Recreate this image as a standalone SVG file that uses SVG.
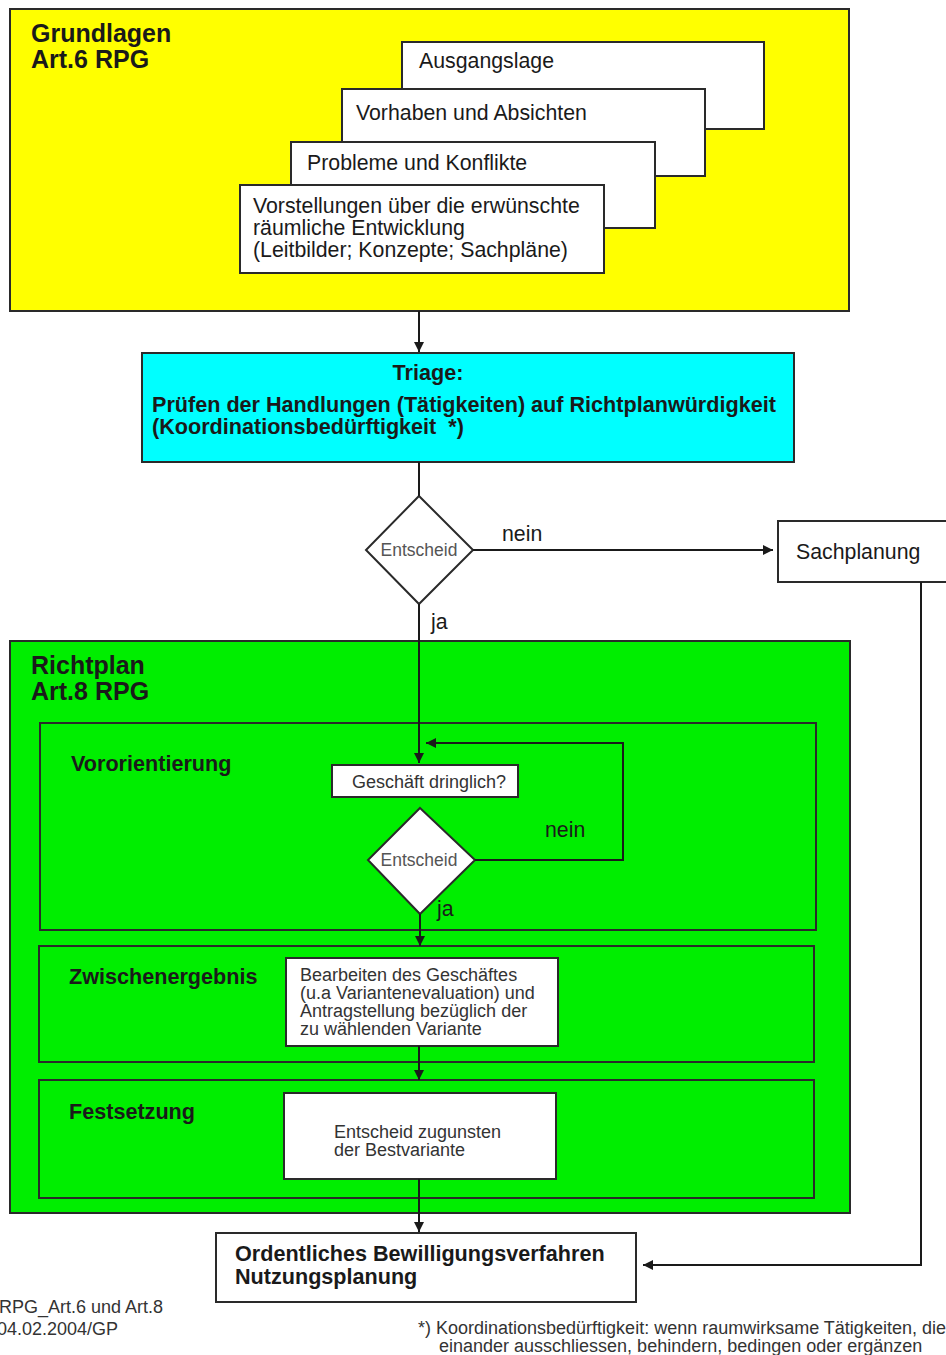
<svg xmlns="http://www.w3.org/2000/svg" width="946" height="1355" viewBox="0 0 946 1355">
  <style>
    .box { fill: #ffffff; stroke: #2a2a2a; stroke-width: 2; }
    .frame { stroke: #2a2a2a; stroke-width: 2; }
    .conn { fill: none; stroke: #1a1a1a; stroke-width: 2; }
    .t { font-family: "Liberation Sans", Arial, sans-serif; fill: #1a1a1a; }
    .head { font-size: 25px; font-weight: bold; }
    .lbl { font-size: 21.6px; font-weight: bold; }
    .reg { font-size: 21.3px; }
    .sm { font-size: 18px; fill: #333333; }
    .dec { font-size: 17.5px; fill: #555555; }
    .foot { font-size: 18px; fill: #333333; }
  </style>
  <defs>
    <marker id="arrow" markerUnits="userSpaceOnUse" markerWidth="10" markerHeight="10" refX="10" refY="5" orient="auto">
      <path d="M0,0 L10,5 L0,10 z" fill="#1a1a1a"/>
    </marker>
  </defs>

  <rect width="946" height="1355" fill="#ffffff"/>

  <!-- Grundlagen area -->
  <g id="grundlagen">
    <rect x="10" y="9" width="839" height="302" fill="#ffff00" class="frame"/>
    <text class="t head" x="31" y="42">Grundlagen</text>
    <text class="t head" x="31" y="68">Art.6 RPG</text>
  </g>
  <g id="ausgangslage">
    <rect class="box" x="402" y="42" width="362" height="87"/>
    <text class="t reg" x="419" y="68">Ausgangslage</text>
  </g>
  <g id="vorhaben">
    <rect class="box" x="342" y="89" width="363" height="87"/>
    <text class="t reg" x="356" y="120">Vorhaben und Absichten</text>
  </g>
  <g id="probleme">
    <rect class="box" x="291" y="142" width="364" height="86"/>
    <text class="t reg" x="307" y="170">Probleme und Konflikte</text>
  </g>
  <g id="vorstellungen">
    <rect class="box" x="240" y="185" width="364" height="88"/>
    <text class="t reg" x="253" y="213">Vorstellungen über die erwünschte</text>
    <text class="t reg" x="253" y="235">räumliche Entwicklung</text>
    <text class="t reg" x="253" y="257">(Leitbilder; Konzepte; Sachpläne)</text>
  </g>

  <!-- Triage -->
  <g id="triage">
    <rect x="142" y="353" width="652" height="109" fill="#00ffff" class="frame"/>
    <text class="t lbl" x="428" y="380" text-anchor="middle">Triage:</text>
    <text class="t lbl" x="152" y="412">Prüfen der Handlungen (Tätigkeiten) auf Richtplanwürdigkeit</text>
    <text class="t lbl" x="152" y="434" xml:space="preserve">(Koordinationsbedürftigkeit  *)</text>
  </g>

  <!-- first decision -->
  <g id="entscheid1">
    <polygon class="box" points="419,496 473,550 419,604 366,550"/>
    <text class="t dec" x="419" y="556" text-anchor="middle">Entscheid</text>
  </g>

  <g id="sachplanung">
    <rect class="box" x="778" y="521" width="180" height="61"/>
    <text class="t reg" x="796" y="559">Sachplanung</text>
  </g>

  <!-- Richtplan area -->
  <g id="richtplan">
    <rect x="10" y="641" width="840" height="572" fill="#00ee00" class="frame"/>
    <text class="t head" x="31" y="674">Richtplan</text>
    <text class="t head" x="31" y="700">Art.8 RPG</text>
  </g>
  <g id="vororientierung">
    <rect x="40" y="723" width="776" height="207" fill="none" class="frame"/>
    <text class="t lbl" x="71" y="771">Vororientierung</text>
  </g>
  <g id="zwischenergebnis">
    <rect x="39" y="946" width="775" height="116" fill="none" class="frame"/>
    <text class="t lbl" x="69" y="984">Zwischenergebnis</text>
  </g>
  <g id="festsetzung">
    <rect x="39" y="1080" width="775" height="118" fill="none" class="frame"/>
    <text class="t lbl" x="69" y="1119">Festsetzung</text>
  </g>

  <g id="dringlich">
    <rect class="box" x="332" y="765" width="186" height="32"/>
    <text class="t sm" x="429" y="788" text-anchor="middle">Geschäft dringlich?</text>
  </g>
  <g id="entscheid2">
    <polygon class="box" points="420,808 475,860 420,914 368,860"/>
    <text class="t dec" x="419" y="866" text-anchor="middle">Entscheid</text>
  </g>
  <g id="bearbeiten">
    <rect class="box" x="286" y="958" width="272" height="88"/>
    <text class="t sm" x="300" y="981">Bearbeiten des Geschäftes</text>
    <text class="t sm" x="300" y="999">(u.a Variantenevaluation) und</text>
    <text class="t sm" x="300" y="1017">Antragstellung bezüglich der</text>
    <text class="t sm" x="300" y="1035">zu wählenden Variante</text>
  </g>
  <g id="bestvariante">
    <rect class="box" x="284" y="1093" width="272" height="86"/>
    <text class="t sm" x="334" y="1138">Entscheid zugunsten</text>
    <text class="t sm" x="334" y="1156">der Bestvariante</text>
  </g>

  <g id="bewilligung">
    <rect class="box" x="216" y="1233" width="420" height="69"/>
    <text class="t lbl" x="235" y="1261">Ordentliches Bewilligungsverfahren</text>
    <text class="t lbl" x="235" y="1284">Nutzungsplanung</text>
  </g>

  <!-- connectors -->
  <g id="connectors">
    <line class="conn" x1="419" y1="311" x2="419" y2="352" marker-end="url(#arrow)"/>
    <line class="conn" x1="419" y1="462" x2="419" y2="496"/>
    <line class="conn" x1="473" y1="550" x2="773" y2="550" marker-end="url(#arrow)"/>
    <line class="conn" x1="419" y1="604" x2="419" y2="763" marker-end="url(#arrow)"/>
    <polyline class="conn" points="475,860 623,860 623,743 426,743" marker-end="url(#arrow)"/>
    <line class="conn" x1="420" y1="914" x2="420" y2="946" marker-end="url(#arrow)"/>
    <line class="conn" x1="419" y1="1046" x2="419" y2="1080" marker-end="url(#arrow)"/>
    <line class="conn" x1="419" y1="1179" x2="419" y2="1232" marker-end="url(#arrow)"/>
    <polyline class="conn" points="921,582 921,1265 643,1265" marker-end="url(#arrow)"/>
    <text class="t reg" x="502" y="541">nein</text>
    <text class="t reg" x="431" y="629">ja</text>
    <text class="t reg" x="545" y="837">nein</text>
    <text class="t reg" x="437" y="916">ja</text>
  </g>

  <!-- footer -->
  <g id="footer">
    <text class="t foot" x="-1" y="1313" font-size="17.5">RPG_Art.6 und Art.8</text>
    <text class="t foot" x="-3" y="1335" font-size="17.5">04.02.2004/GP</text>
    <text class="t foot" x="418" y="1334">*) Koordinationsbedürftigkeit: wenn raumwirksame Tätigkeiten, die</text>
    <text class="t foot" x="439" y="1352">einander ausschliessen, behindern, bedingen oder ergänzen</text>
  </g>
</svg>
